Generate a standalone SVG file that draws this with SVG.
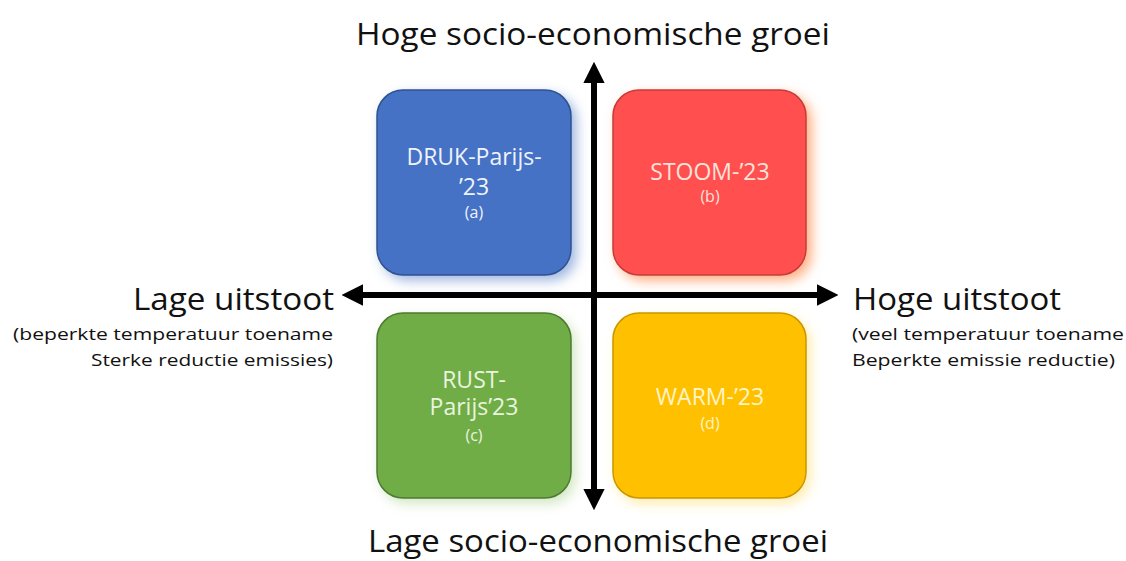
<svg xmlns="http://www.w3.org/2000/svg" width="1126" height="561" viewBox="0 0 1126 561">
  <style>
    .title { font-family: "Open Sans", "Liberation Sans", sans-serif; font-size: 31px; fill: #111; }
    .sub { font-family: "Open Sans", "Liberation Sans", sans-serif; font-size: 17px; fill: #111; }
    .lbl { font-family: "Open Sans", "Liberation Sans", sans-serif; font-size: 23px; text-anchor: middle; }
    .tag { font-family: "Open Sans", "Liberation Sans", sans-serif; font-size: 16px; text-anchor: middle; }
    .axis { stroke: #000; stroke-width: 6; fill: none; }
  </style>
  <defs>
    <marker id="head" viewBox="0 0 10 10" refX="2" refY="5" markerWidth="3.6" markerHeight="3.6" orient="auto-start-reverse" markerUnits="strokeWidth">
      <path d="M0,0 L10,5 L0,10 Z" fill="#000"/>
    </marker>
    <filter id="glow-blue" x="-20%" y="-20%" width="140%" height="140%">
      <feGaussianBlur in="SourceAlpha" stdDeviation="6" result="b"/>
      <feOffset in="b" dx="5" dy="5" result="o"/>
      <feFlood flood-color="#4472c4" flood-opacity="0.5"/>
      <feComposite in2="o" operator="in" result="s"/>
      <feMerge><feMergeNode in="s"/><feMergeNode in="SourceGraphic"/></feMerge>
    </filter>
    <filter id="glow-red" x="-20%" y="-20%" width="140%" height="140%">
      <feGaussianBlur in="SourceAlpha" stdDeviation="6" result="b"/>
      <feOffset in="b" dx="5" dy="5" result="o"/>
      <feFlood flood-color="#ff7a30" flood-opacity="0.6"/>
      <feComposite in2="o" operator="in" result="s"/>
      <feMerge><feMergeNode in="s"/><feMergeNode in="SourceGraphic"/></feMerge>
    </filter>
    <filter id="glow-green" x="-20%" y="-20%" width="140%" height="140%">
      <feGaussianBlur in="SourceAlpha" stdDeviation="6" result="b"/>
      <feOffset in="b" dx="4" dy="5" result="o"/>
      <feFlood flood-color="#8fc46a" flood-opacity="0.4"/>
      <feComposite in2="o" operator="in" result="s"/>
      <feMerge><feMergeNode in="s"/><feMergeNode in="SourceGraphic"/></feMerge>
    </filter>
    <filter id="glow-yellow" x="-20%" y="-20%" width="140%" height="140%">
      <feGaussianBlur in="SourceAlpha" stdDeviation="6" result="b"/>
      <feOffset in="b" dx="4" dy="5" result="o"/>
      <feFlood flood-color="#ffd54a" flood-opacity="0.45"/>
      <feComposite in2="o" operator="in" result="s"/>
      <feMerge><feMergeNode in="s"/><feMergeNode in="SourceGraphic"/></feMerge>
    </filter>
  </defs>
  <rect width="1126" height="561" fill="#fff"/>

  <g id="node-a">
    <rect x="377" y="90" width="194" height="185" rx="26" fill="#4472c4" stroke="#2f528f" stroke-width="1.5" filter="url(#glow-blue)"/>
    <text class="lbl" x="474" y="165" fill="#eef2fb">DRUK-Parijs-</text>
    <text class="lbl" x="474" y="195" fill="#eef2fb">’23</text>
    <text class="tag" x="474" y="218" fill="#eef2fb">(a)</text>
  </g>

  <g id="node-b">
    <rect x="613" y="90" width="193" height="185" rx="26" fill="#ff5050" stroke="#c63a3a" stroke-width="1.5" filter="url(#glow-red)"/>
    <text class="lbl" x="710" y="180" fill="#fde2da">STOOM-’23</text>
    <text class="tag" x="710" y="202" fill="#fde2da">(b)</text>
  </g>

  <g id="node-c">
    <rect x="377" y="313" width="194" height="185" rx="26" fill="#70ad47" stroke="#4d7a30" stroke-width="1.5" filter="url(#glow-green)"/>
    <text class="lbl" x="474" y="388" fill="#eaf4df">RUST-</text>
    <text class="lbl" x="474" y="415" fill="#eaf4df">Parijs’23</text>
    <text class="tag" x="474" y="441" fill="#eaf4df">(c)</text>
  </g>

  <g id="node-d">
    <rect x="613" y="313" width="193" height="185" rx="26" fill="#ffc000" stroke="#c89700" stroke-width="1.5" filter="url(#glow-yellow)"/>
    <text class="lbl" x="710" y="405" fill="#fff3c8">WARM-’23</text>
    <text class="tag" x="710" y="429" fill="#fff3c8">(d)</text>
  </g>

  <g id="connectors">
    <line class="axis" x1="594" y1="493" x2="594" y2="79" marker-start="url(#head)" marker-end="url(#head)"/>
    <line class="axis" x1="359" y1="295" x2="821" y2="295" marker-start="url(#head)" marker-end="url(#head)"/>
  </g>

  <g id="axis-labels">
    <text class="title" x="593" y="45" text-anchor="middle" textLength="474" lengthAdjust="spacingAndGlyphs">Hoge socio-economische groei</text>
    <text class="title" x="598" y="552" text-anchor="middle" textLength="460" lengthAdjust="spacingAndGlyphs">Lage socio-economische groei</text>
    <text class="title" x="334" y="310" text-anchor="end" textLength="201" lengthAdjust="spacingAndGlyphs">Lage uitstoot</text>
    <text class="sub" x="333" y="340" text-anchor="end" textLength="320" lengthAdjust="spacingAndGlyphs">(beperkte temperatuur toename</text>
    <text class="sub" x="333" y="366" text-anchor="end" textLength="242" lengthAdjust="spacingAndGlyphs">Sterke reductie emissies)</text>
    <text class="title" x="853" y="310" textLength="208" lengthAdjust="spacingAndGlyphs">Hoge uitstoot</text>
    <text class="sub" x="852" y="340" textLength="272" lengthAdjust="spacingAndGlyphs">(veel temperatuur toename</text>
    <text class="sub" x="852" y="366" textLength="263" lengthAdjust="spacingAndGlyphs">Beperkte emissie reductie)</text>
  </g>
</svg>
